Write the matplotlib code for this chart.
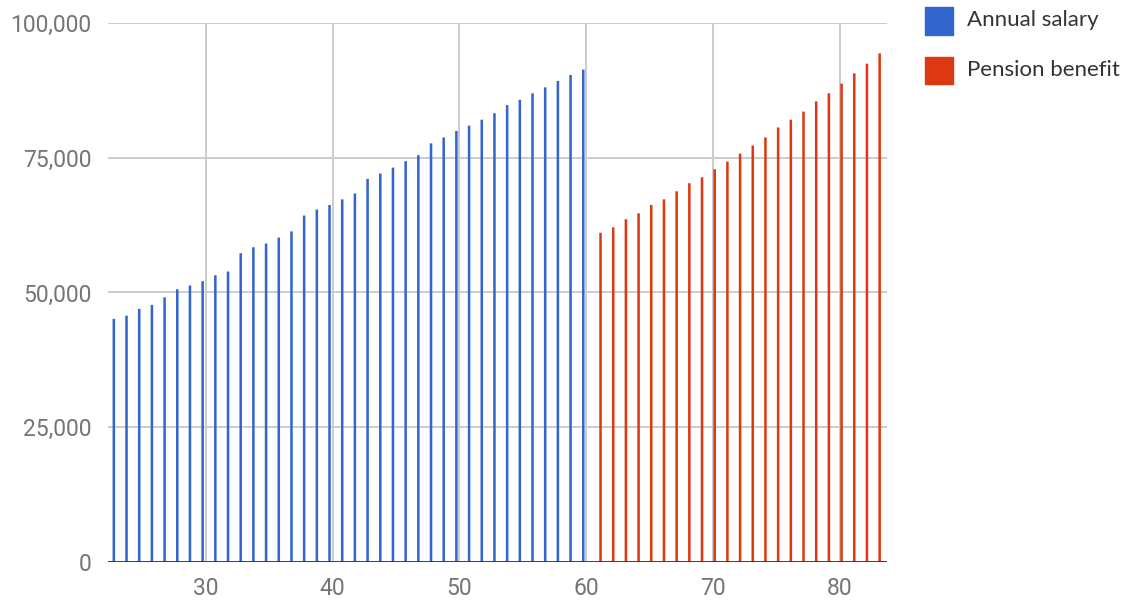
import matplotlib
matplotlib.use("Agg")
import matplotlib.pyplot as plt
from matplotlib.patches import Rectangle

# ---- data ----
salary_ages = list(range(23, 61))
salary_values = [45100, 45700, 46960, 47700, 49100, 50600, 51300, 52100, 53200, 53900,
                 57300, 58400, 59100, 60200, 61350, 64300, 65400, 66250, 67300, 68400,
                 71100, 72100, 73200, 74400, 75500, 77700, 78800, 80000, 81000, 82100,
                 83300, 84800, 85800, 87000, 88100, 89300, 90400, 91400]
pension_ages = list(range(61, 84))
pension_values = [61100, 62100, 63600, 64700, 66250, 67300, 68800, 70300, 71400, 72900,
                  74300, 75800, 77300, 78800, 80650, 82100, 83600, 85500, 87000, 88800,
                  90700, 92500, 94400]
series_names = ["Annual salary", "Pension benefit"]
y_ticks = [0, 25000, 50000, 75000, 100000]
y_labels = ["0", "25,000", "50,000", "75,000", "100,000"]
x_ticks = [30, 40, 50, 60, 70, 80]

BLUE = "#3366cc"
RED = "#dc3912"

W, H = 1123, 601
fig = plt.figure(figsize=(W / 100, H / 100), dpi=100)
left, right, top, bottom = 108, 887, 23.3, 561.7
ax = fig.add_axes([left / W, 1 - bottom / H, (right - left) / W, (bottom - top) / H])

bw = 0.2
ax.bar([a - 0.24 for a in salary_ages], salary_values, width=bw, color=BLUE, zorder=3,
       linewidth=0, snap=False)
ax.bar([a + 0.12 for a in pension_ages], pension_values, width=bw, color=RED, zorder=3,
       linewidth=0, snap=False)

ax.set_xlim(22.3, 83.7)
ax.set_ylim(0, 100000)
ax.set_yticks(y_ticks)
ax.set_yticklabels(y_labels)
ax.set_xticks(x_ticks)
for s in ax.spines.values():
    s.set_visible(False)
ax.grid(True, color="#cccccc", linewidth=1.4, zorder=0)
ax.axhline(0, color="#333333", linewidth=2, zorder=4)
ax.tick_params(length=0, labelsize=16.5, labelcolor="#757575")
ax.tick_params(axis="y", pad=12)
ax.tick_params(axis="x", pad=11)
for lab in ax.get_xticklabels() + ax.get_yticklabels():
    lab.set_fontfamily("Roboto")

# legend
for i, (name, col) in enumerate(zip(series_names, [BLUE, RED])):
    y0 = 7 + i * 49.5
    fig.patches.append(Rectangle((925 / W, 1 - (y0 + 27.5) / H), 27.5 / W, 27.5 / H,
                                 transform=fig.transFigure, color=col))
    fig.text(967 / W, 1 - (y0 + 13) / H, name, fontsize=16, color="#333333",
             family="Lato", va="center", ha="left")

fig.savefig("out.png", dpi=100)
